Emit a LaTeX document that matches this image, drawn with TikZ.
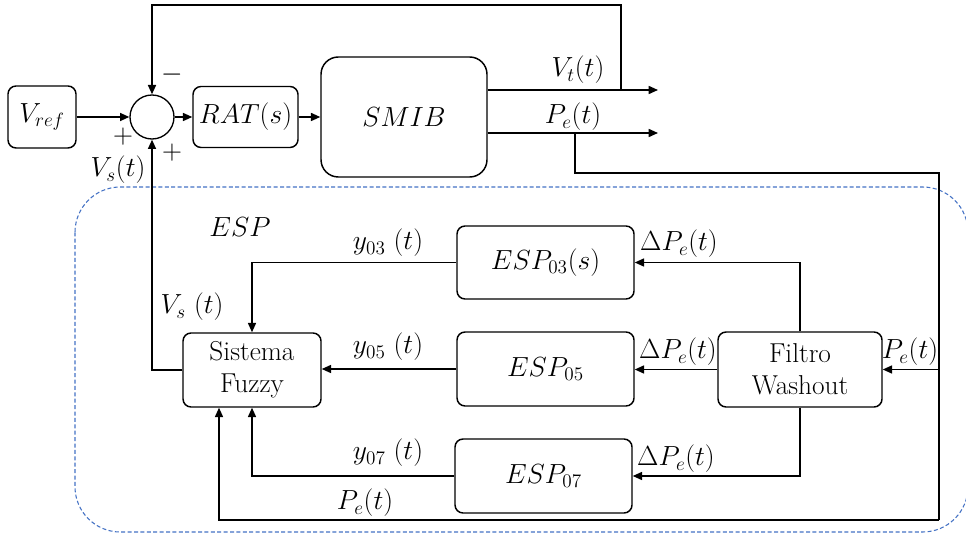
\documentclass[tikz,border=0pt]{standalone}
\usetikzlibrary{arrows.meta,calc}
\definecolor{espblue}{RGB}{68,114,196}
\newcommand{\pu}{0.75pt}
\begin{document}
\begin{tikzpicture}[x=0.75pt,y=-0.75pt,
  every node/.style={font=\fontsize{20}{23}\selectfont},
  blk/.style={draw,line width=1.1pt,rounded corners=6pt,align=center,inner sep=0pt},
  txt/.style={font=\fontsize{20.5}{24}\selectfont},
  arr/.style={line width=1.2pt,-{Triangle[length=7pt,width=6pt]}},
  ln/.style={line width=1.2pt},
  lbl/.style={inner sep=0pt}]
\useasboundingbox (0,0) rectangle (966,534);
% ESP region
\draw[espblue,line width=0.8pt,dash pattern=on 3pt off 1.8pt,rounded corners=34pt] (75,187) rectangle (968,532);
% blocks
\node[blk,minimum width=68*\pu,minimum height=62*\pu] (vref) at (42,117) {$V_{ref}$};
\node[draw,circle,line width=1pt,minimum size=44*\pu,inner sep=0pt] (sum) at (152,117) {};
\node[blk,minimum width=105*\pu,minimum height=61*\pu] (rat) at (245.5,117) {$RAT(s)$};
\node[blk,rounded corners=13pt,minimum width=166*\pu,minimum height=120*\pu] (smib) at (404,117) {$SMIB$};
\node[blk,minimum width=177*\pu,minimum height=73*\pu] (esp03) at (545.5,262.5) {$ESP_{03}(s)$};
\node[blk,minimum width=177*\pu,minimum height=74*\pu] (esp05) at (545.5,369) {$ESP_{05}$};
\node[blk,minimum width=177*\pu,minimum height=74*\pu] (esp07) at (543.5,476) {$ESP_{07}$};
\node[blk,txt,minimum width=138*\pu,minimum height=74*\pu] (fuzzy) at (252,370) {Sistema\\Fuzzy};
\node[blk,txt,minimum width=164*\pu,minimum height=75*\pu] (filtro) at (800,369.5) {Filtro\\Washout};
% coordinates
\coordinate (vtend) at (658,90);
\coordinate (vtb) at (621,90);
\coordinate (peend) at (658,133);
\coordinate (peb) at (575,133);
\coordinate (pr) at (939,173);
\coordinate (pbot) at (939,520);
% main loop
\draw[arr] (vref.east) -- (sum.west);
\draw[arr] (sum.east) -- (rat.west);
\draw[arr] (rat.east) -- (smib.west);
\draw[arr] (smib.east |- vtend) -- (vtend);
\draw[arr] (smib.east |- peend) -- (peend);
\draw[arr] (vtb) -- ++(0,-85) -| (sum.north);
% Pe feedback
\draw[ln] (peb) |- (pr) -- (pbot);
\draw[arr] (pbot) -| ([xshift=-24.75pt]fuzzy.south);
\draw[arr] (pr |- filtro.east) -- (filtro.east);
% ESP internals
\draw[arr] (filtro.north) |- (esp03.east);
\draw[arr] (filtro.west) -- (filtro.west -| esp05.east);
\draw[arr] (filtro.south) |- (esp07.east);
\draw[arr] (esp03.west) -| (fuzzy.north);
\draw[arr] (esp05.west) -- (esp05.west -| fuzzy.east);
\draw[arr] (esp07.west) -| (fuzzy.south);
\draw[arr] (fuzzy.west) -| (sum.south);
% labels
\node[lbl,txt] (minus) at (172,75) {$-$};
\node[lbl,txt] (plus1) at (123,137) {$+$};
\node[lbl,txt] (plus2) at (172,153) {$+$};
\node[lbl] (lvs) at (118,170) {$V_s(t)$};
\node[lbl] (lvt) at (578,70) {$V_t(t)$};
\node[lbl] (lpe) at (573,117) {$P_e(t)$};
\node[lbl] (lesp) at (240,227) {$ESP$};
\node[lbl] (ly03) at (388,243) {$y_{03}\ (t)$};
\node[lbl] (ly05) at (388,347) {$y_{05}\ (t)$};
\node[lbl] (ly07) at (388,453) {$y_{07}\ (t)$};
\node[lbl] (lvs2) at (192,307) {$V_s\ (t)$};
\node[lbl] (ld1) at (679,244) {$\Delta P_e(t)$};
\node[lbl] (ld2) at (678,352) {$\Delta P_e(t)$};
\node[lbl] (ld3) at (676,459) {$\Delta P_e(t)$};
\node[lbl] (lpe2) at (910,352) {$P_e(t)$};
\node[lbl] (lpe3) at (365,503) {$P_e(t)$};
\end{tikzpicture}
\end{document}
